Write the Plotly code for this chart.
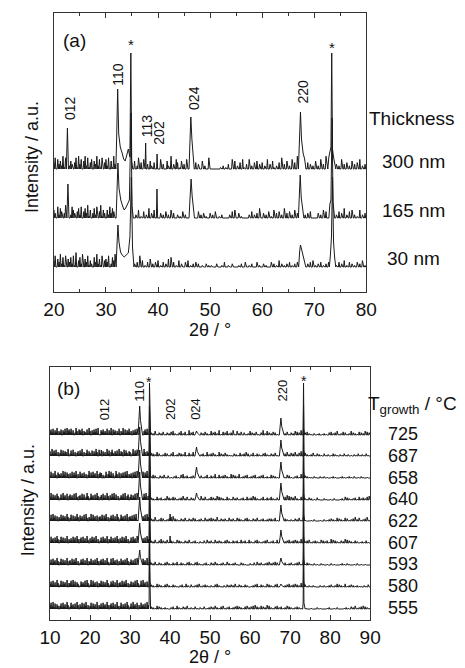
import plotly.graph_objects as go

W, H = 465, 668
FONT = "Liberation Sans, Arial, sans-serif"

# ---------------- Panel (a): thickness series ----------------
A_LABELS = ["300 nm", "165 nm", "30 nm"]
A_X_START, A_STEP = 20.0, 0.25
A_NOISE_UNIT = 1.6  # intensity units per noise digit

A_NOISE_300 = ("4706352817" "0625304718" "3605827146" "0538261704"
               "6270518362" "0471529360" "3050270406" "1030520407"
               "2060300520" "8030640150" "3060201004" "0300502007"
               "0000000010" "2010300605" "0204061030" "6020405030"
               "4020603051" "0204070305" "0206040803" "0601040302"
               "0502060308" "0407050302" "0603040205" "0304060203" "0")
A_NOISE_165 = ("5307264038" "1602753046" "2704638150" "3627048153"
               "0527364018" "2603514072" "0302050104" "0206030501"
               "0030204020" "5030020104" "0200301020" "0402030100"
               "3020400102" "0000020405" "0030100000" "2040203060"
               "0302040105" "0304020603" "0402050301" "0602030400"
               "0003020504" "0603050204" "0306020405" "0201050203" "0")
A_NOISE_30 = ("4705382617" "0536271904" "6280537142" "0638251704"
              "5370264810" "3725160843" "6020307040" "1030502030"
              "4010302050" "6030104020" "0304010203" "0200100201"
              "0100020001" "0300100200" "0010200300" "1020003010"
              "0201000302" "0104020102" "0301020301" "0401020304"
              "0102030102" "0302040103" "0204010302" "0103020401" "0")

A_PEAKS_300 = [
    [(22.4, 0), (22.6, 41), (22.8, 0)],
    [(31.9, 0), (32.05, 30), (32.25, 80), (32.45, 35), (32.75, 22), (33.1, 16),
     (33.4, 10), (33.7, 8), (34.0, 14), (34.3, 20), (34.6, 12), (34.78, 116),
     (34.95, 8), (35.15, 0)],
    [(37.52, 0), (37.62, 26), (37.72, 0)],
    [(39.72, 0), (39.82, 15), (39.92, 0)],
    [(45.95, 0), (46.1, 25), (46.3, 52), (46.5, 30), (46.75, 12), (46.95, 0)],
    [(66.95, 0), (67.15, 28), (67.35, 57), (67.55, 30), (67.85, 16), (68.15, 10), (68.4, 0)],
    [(72.6, 0), (72.8, 12), (73.0, 18), (73.2, 22), (73.35, 116), (73.5, 20),
     (73.7, 12), (74.0, 0)],
]
A_PEAKS_165 = [
    [(22.5, 0), (22.7, 34), (22.9, 0)],
    [(31.95, 0), (32.1, 25), (32.3, 55), (32.5, 30), (32.85, 18), (33.2, 12),
     (33.5, 8), (33.8, 10), (34.2, 14), (34.5, 18), (34.82, 105), (35.0, 12), (35.25, 0)],
    [(39.68, 0), (39.8, 29), (39.92, 0)],
    [(45.95, 0), (46.15, 20), (46.35, 39), (46.55, 22), (46.8, 8), (47.0, 0)],
    [(66.95, 0), (67.1, 20), (67.3, 43), (67.5, 20), (67.75, 8), (68.0, 0)],
    [(72.8, 0), (73.0, 14), (73.2, 18), (73.42, 100), (73.6, 16), (73.9, 0)],
]
A_PEAKS_30 = [
    [(31.95, 0), (32.1, 20), (32.3, 42), (32.5, 25), (32.8, 15), (33.1, 12),
     (33.5, 10), (33.9, 12), (34.3, 14), (34.6, 30), (34.88, 90), (35.1, 20), (35.3, 0)],
    [(67.0, 0), (67.2, 16), (67.35, 22), (67.55, 18), (67.8, 12), (68.1, 6), (68.3, 0)],
    [(72.9, 0), (73.1, 12), (73.3, 30), (73.5, 90), (73.7, 25), (73.9, 10), (74.1, 0)],
]
A_NOISE = [A_NOISE_300, A_NOISE_165, A_NOISE_30]
A_PEAKS = [A_PEAKS_300, A_PEAKS_165, A_PEAKS_30]

A_PEAK_LABELS = ["012", "110", "*", "113", "202", "024", "220", "*"]
A_TICKS = [20, 30, 40, 50, 60, 70, 80]

# ---------------- Panel (b): growth temperature series ----------------
B_LABELS = ["725", "687", "658", "640", "622", "607", "593", "580", "555"]
B_X_START, B_STEP = 10.0, 0.25
B_NOISE_UNIT = 0.78

B_NOISE = [
    ("5738264915" "3706482957" "4826039517" "6380542719" "5063748291" "0647352816"
     "3907461528" "0539172648" "2506374819" "3620574816" "0302050103" "0204010302"
     "0405020103" "0502040106" "0304020105" "0302040201" "0503040206" "0104030502"
     "0306010502" "0400301020" "5030204010" "0306020503" "0204030102" "0305020401"
     "0302050403" "0605030402" "0100200102" "0010201003" "0402030501" "0204030102"
     "0503020104" "0302050403" "0"),
    ("6293748150" "4827365190" "3728150462" "7390514826" "4172639508" "3746251937"
     "0584263719" "2650837416" "5039274816" "0372951648" "0403020503" "0102040301"
     "0305010204" "0302050104" "0205030104" "0203010502" "0304020105" "0302040201"
     "0100302010" "4020305030" "0204010302" "0103040201" "0302040103" "0204030502"
     "0403050204" "0603040201" "0204010302" "0100301020" "0103020100" "2010301020"
     "0100201030" "1020103010" "0"),
    ("3816294075" "3629481750" "6283749051" "8362715049" "2738461905" "7264038159"
     "4826039517" "0637284915" "3607482915" "6038274915" "0204030100" "3020401030"
     "0100203010" "0405020301" "0203010402" "0301020401" "0302050104" "0203040201"
     "0504030205" "0102030401" "0203040102" "0304010201" "0403020104" "0302010403"
     "0100020301" "0504030201" "0100201000" "2010200100" "0102010000" "1020100102"
     "0100200010" "0201000100" "0"),
    ("4927361850" "3729461805" "7362819405" "6283714950" "3846172950" "4728361950"
     "6384927150" "3648291570" "4726381950" "6273849150" "0302010402" "0301020503"
     "0204030102" "0305020401" "0302040203" "0502040102" "0403020504" "0302010402"
     "0104020301" "0203010402" "0305040201" "0204010302" "0402010302" "0305040605"
     "0403050201" "0403020103" "0200100301" "0000201000" "1000200000" "1020040302"
     "0102030104" "0203020405" "0"),
    ("3829471605" "2837461950" "4817263950" "7362819405" "3928461705" "6382749150"
     "4738261950" "3846271905" "6372849150" "4726381950" "0302050102" "0403010203"
     "0506030201" "0302040103" "0204030102" "0301040203" "0403020501" "0302030104"
     "0203010403" "0201030402" "0103020401" "0203010203" "0302040103" "0102030201"
     "0201030204" "0102010000" "0100200000" "1000200102" "0302010403" "0201040301"
     "0203050204" "0102030501" "0"),
    ("2846173950" "4837261905" "3628471950" "5728361940" "6384729150" "3728461905"
     "4826371950" "6382749150" "3728461905" "4826371950" "0302040103" "0503020401"
     "0302010403" "0201030204" "0102030100" "2010300402" "0301040203" "0201030402"
     "0103020301" "0402030104" "0201030402" "0102030401" "0203010402" "0301020304"
     "0203040302" "0501020304" "0102030201" "0403020301" "0504030201" "0302050403"
     "0201030200" "1020103010" "0"),
    ("3728461950" "4827361905" "6283749150" "3748261905" "4826371950" "5738261940"
     "3829461705" "2846371950" "4736281950" "3728461905" "0302040103" "0201030402"
     "0103020401" "0302010304" "0201030402" "0100203010" "0302040201" "0203010402"
     "0102030100" "0302010000" "2010300402" "0301020304" "0203040302" "0504030102"
     "0301020304" "0102010302" "0100200100" "0201000100" "0200100000" "1020100201"
     "0000100200" "0100010000" "0"),
    ("4738261950" "3827461905" "5829371640" "2746381950" "3928461705" "4827361950"
     "3748261905" "6283749150" "4726381950" "3829461705" "0302010403" "0201030402"
     "0103020100" "2030104020" "0301020304" "0102030201" "0201030402" "0100200302"
     "0302040103" "0201030200" "0102030401" "0302010403" "0201030402" "0301020304"
     "0203040302" "0504030102" "0102010000" "2010200102" "0301020403" "0201040102"
     "0302010201" "0100201030" "0"),
    ("5839271640" "4728361950" "3846271950" "6382749150" "4827361905" "3728461950"
     "5738261940" "4826371950" "3729461805" "2846371950" "0302010403" "0201020100"
     "0203010402" "0103020401" "0201030100" "2010300102" "0302040201" "0304010203"
     "0102030403" "0201030402" "0304050302" "0403020504" "0201030402" "0301020403"
     "0201020302" "0100201000" "0100000200" "1000000102" "0000100200" "0000102010"
     "0302040102" "0304030201" "0"),
]

# peak positions (2theta) and heights per trace (intensity units)
B_PEAK_POS = {"012": 22.8, "110": 32.4, "s1": 34.85, "202": 40.0,
              "024": 46.6, "220": 67.7, "s2": 73.35}
B_PEAK_H = {
    "012": [0, 6, 5, 5, 0, 0, 0, 0, 0],
    "110": [29, 29, 28, 28, 24, 20, 15, 0, 0],
    "s1":  [52, 50, 50, 50, 50, 50, 50, 50, 50],
    "202": [0, 0, 0, 0, 7, 7, 0, 0, 0],
    "024": [4, 9, 11, 7, 0, 0, 0, 0, 0],
    "220": [17, 16, 16, 17, 16, 13, 7, 3, 0],
    "s2":  [52, 50, 50, 50, 50, 50, 50, 50, 50],
}
B_PROFILE = {
    "broad": [(-0.4, 0), (-0.2, 0.45), (0, 1), (0.2, 0.5), (0.45, 0.2), (0.65, 0)],
    "sharp": [(-0.22, 0), (-0.1, 0.12), (0, 1), (0.1, 0.12), (0.22, 0)],
    "small": [(-0.12, 0), (0, 1), (0.12, 0)],
}
B_PEAK_SHAPE = {"012": "small", "110": "broad", "s1": "sharp", "202": "small",
                "024": "broad", "220": "broad", "s2": "sharp"}
B_PEAK_LABELS = ["012", "110", "*", "202", "024", "220", "*"]
B_TICKS = [10, 20, 30, 40, 50, 60, 70, 80, 90]

# ---------------- layout constants (pixels) ----------------
A_BASE = [123, 74, 25]
B_BASE = [185, 164, 142, 120, 99, 77, 55, 33, 11]
A_FRAME = dict(x0=45, x1=373, y0=13, y1=292)
B_FRAME = dict(x0=41, x1=377, y0=367, y1=620)


def build(noise, x0, step, unit, peaks):
    """Noise samples drawn as a comb (each count returns to the baseline)."""
    ranges = [(min(p[0] for p in g), max(p[0] for p in g)) for g in peaks]
    pts = []
    for i, ch in enumerate(noise):
        x = x0 + i * step
        if any(lo - step / 2 <= x <= hi + step / 2 for lo, hi in ranges):
            continue
        pts.append((x - step / 2, 0))
        pts.append((x, int(ch) * unit))
    for g in peaks:
        pts.extend(g)
    pts.sort()
    return [p[0] for p in pts], [p[1] for p in pts]


fig = go.Figure()
LINE = dict(color="#1a1a1a", width=1)

for k in range(3):
    xs, ys = build(A_NOISE[k], A_X_START, A_STEP, A_NOISE_UNIT, A_PEAKS[k])
    fig.add_trace(go.Scatter(x=xs, y=[A_BASE[k] + v for v in ys], mode="lines",
                             line=LINE, xaxis="x", yaxis="y", showlegend=False,
                             name=A_LABELS[k]))

for k in range(9):
    peaks = []
    for key, pos in B_PEAK_POS.items():
        h = B_PEAK_H[key][k]
        if h <= 0:
            continue
        peaks.append([(pos + dx, h * f) for dx, f in B_PROFILE[B_PEAK_SHAPE[key]]])
    xs, ys = build(B_NOISE[k], B_X_START, B_STEP, B_NOISE_UNIT, peaks)
    fig.add_trace(go.Scatter(x=xs, y=[B_BASE[k] + v for v in ys], mode="lines",
                             line=LINE, xaxis="x2", yaxis="y2", showlegend=False,
                             name=B_LABELS[k]))


def px(x):
    return x / W


def py(y):
    return 1 - y / H


def xax(frame, rng, ticks):
    return dict(domain=[px(frame["x0"]), px(frame["x1"])], range=rng,
                tickvals=ticks, ticktext=[str(t) for t in ticks],
                ticks="inside", ticklen=5, tickwidth=1, tickcolor="#333",
                minor=dict(dtick=5, ticks="inside", ticklen=3, tickwidth=1,
                           tickcolor="#333"),
                showline=True, linecolor="#333", linewidth=1.3, mirror="ticks",
                showgrid=False, zeroline=False,
                tickfont=dict(family=FONT, size=19, color="#111"))


def yax(frame, top):
    return dict(domain=[py(frame["y1"]), py(frame["y0"])], range=[0, top],
                showline=True, linecolor="#333", linewidth=1.3, mirror=True,
                ticks="", showticklabels=False, showgrid=False, zeroline=False)


fig.update_layout(
    width=W, height=H, margin=dict(l=0, r=0, t=0, b=0),
    paper_bgcolor="white", plot_bgcolor="white",
    xaxis=dict(xax(A_FRAME, [20, 80], A_TICKS), anchor="y"),
    yaxis=dict(yax(A_FRAME, A_FRAME["y1"] - A_FRAME["y0"]), anchor="x"),
    xaxis2=dict(xax(B_FRAME, [10, 90], B_TICKS), anchor="y2"),
    yaxis2=dict(yax(B_FRAME, B_FRAME["y1"] - B_FRAME["y0"]), anchor="x2"),
)

ann = []


def text(x, y, s, size, angle=0, xanchor="center"):
    ann.append(dict(x=px(x), y=py(y), xref="paper", yref="paper", text=s,
                    showarrow=False, textangle=angle, xanchor=xanchor,
                    yanchor="middle", font=dict(family=FONT, size=size, color="#111")))


# panel (a) texts
text(67, 40, "(a)", 19)
text(22, 157, "Intensity / a.u.", 18, -90)
text(209, 330, "2θ / °", 18)
text(421, 118, "Thickness", 19)
for lbl, yy in zip(A_LABELS, [162, 210, 258]):
    text(423, yy, lbl, 19)
A_LABEL_POS = [(62, 108), (112, 74), (126, 45), (143, 126), (155, 133),
               (192, 98), (307, 91), (337, 47)]
for lbl, (xx, yy) in zip(A_PEAK_LABELS, A_LABEL_POS):
    if lbl == "*":
        text(xx, yy, lbl, 15)
    else:
        text(xx, yy, lbl, 14, -90)

# panel (b) texts
text(60, 388, "(b)", 19)
text(18, 500, "Intensity / a.u.", 18, -90)
text(209, 657, "2θ / °", 18)
text(421, 405, "T<sub>growth</sub> / °C", 19)
for lbl, yy in zip(B_LABELS, [434, 456, 478, 499, 521, 543, 564, 586, 608]):
    text(411, yy, lbl, 18)
B_LABEL_POS = [(98, 409), (134, 391), (145, 382), (167, 409), (193, 409),
               (284, 391), (308, 381)]
for lbl, (xx, yy) in zip(B_PEAK_LABELS, B_LABEL_POS):
    if lbl == "*":
        text(xx, yy, lbl, 14)
    else:
        text(xx, yy, lbl, 13, -90)

fig.update_layout(annotations=ann)
fig.write_html("out.html")
